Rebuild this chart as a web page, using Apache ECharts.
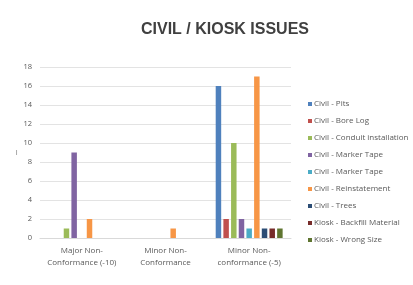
<!DOCTYPE html>
<html>
<head>
<meta charset="utf-8">
<script src="https://cdn.jsdelivr.net/npm/echarts@6/dist/echarts.min.js"></script>
<style>
  html, body { margin: 0; padding: 0; background: #fff; }
  #chart { width: 413px; height: 285px; }
</style>
</head>
<body>
<div id="chart"></div>
<script>
// categories (x axis)
const categories = ['Major Non-\nConformance (-10)', 'Minor Non-\nConformance', 'Minor Non-\nconformance (-5)']

// series names + values per category
const seriesNames = [
  'Civil - Pits',
  'Civil - Bore Log',
  'Civil - Conduit installation',
  'Civil - Marker Tape',
  'Civil - Marker Tape ',
  'Civil - Reinstatement',
  'Civil - Trees',
  'Kiosk - Backfill Material',
  'Kiosk - Wrong Size'
]
const pits = [0, 0, 16]
const boreLog = [0, 0, 2]
const conduit = [1, 0, 10]
const markerTape = [9, 0, 2]
const markerTape2 = [0, 0, 1]
const reinstatement = [2, 1, 17]
const trees = [0, 0, 1]
const backfill = [0, 0, 1]
const wrongSize = [0, 0, 1]
const seriesValues = [pits, boreLog, conduit, markerTape, markerTape2, reinstatement, trees, backfill, wrongSize]

const colors = ['#4f81bd', '#c0504d', '#9bbb59', '#8064a2', '#4bacc6', '#f79646', '#2c4d75', '#772c2a', '#5f7530']

let chart = echarts.init(document.getElementById('chart'))

let series = seriesNames.map((name, i) => {
  return {
    name: name,
    type: 'bar',
    data: seriesValues[i],
    barGap: '40%',
    barCategoryGap: '20%',
    itemStyle: { color: colors[i] }
  }
})

let option = {
  animation: false,
  title: {
    text: 'CIVIL / KIOSK ISSUES',
    left: 220,
    textAlign: 'center',
    top: 17,
    textStyle: {
      fontFamily: 'Liberation Sans',
      fontWeight: 'bold',
      fontSize: 16,
      color: '#404040'
    }
  },
  legend: {
    orient: 'vertical',
    left: 303,
    top: 95,
    itemWidth: 4,
    itemHeight: 4,
    itemGap: 9,
    icon: 'rect',
    data: seriesNames,
    textStyle: {
      fontFamily: 'Open Sans',
      fontSize: 8,
      color: '#595959',
      padding: [0, 0, 0, -3]
    }
  },
  grid: {
    left: 40,
    right: 122,
    top: 67,
    bottom: 47
  },
  xAxis: {
    type: 'category',
    data: categories,
    axisTick: { show: false },
    axisLine: { show: true, lineStyle: { color: '#d9d9d9' } },
    axisLabel: {
      interval: 0,
      fontFamily: 'Open Sans',
      fontSize: 8,
      color: '#595959',
      lineHeight: 12,
      margin: 7
    }
  },
  yAxis: {
    type: 'value',
    min: 0,
    max: 18,
    interval: 2,
    name: '|',
    nameLocation: 'middle',
    nameGap: 19,
    nameRotate: 0,
    nameTextStyle: { fontSize: 6, color: '#555' },
    axisLine: { show: false },
    axisTick: { show: false },
    axisLabel: {
      fontFamily: 'Open Sans',
      fontSize: 7.5,
      color: '#595959',
      margin: 8
    },
    splitLine: { lineStyle: { color: '#e3e3e3' } }
  },
  series: series
}
chart.setOption(option, true)
</script>
</body>
</html>
